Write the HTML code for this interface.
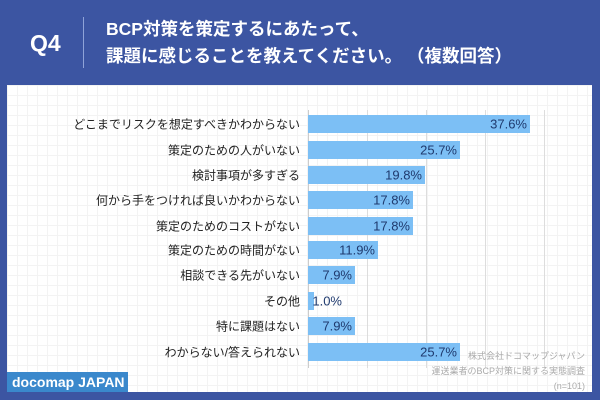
<!DOCTYPE html><html><head><meta charset="utf-8"><style>
body{margin:0;width:600px;height:400px;background:#3c55a2;position:relative;overflow:hidden;font-family:"Liberation Sans","Noto Sans CJK JP",sans-serif}
.q{position:absolute;left:30px;top:30px;color:#fff;font-size:23px;font-weight:bold}
.sep{position:absolute;left:83px;top:17px;width:1px;height:51px;background:#8fa3d8}
.t{position:absolute;left:106px;top:16px;color:#fff;font-size:17.5px;font-weight:bold;line-height:27px;white-space:nowrap}
.panel{position:absolute;left:7px;top:85px;width:585px;height:307px;background:#fff;background-image:linear-gradient(#f3f3f3 1px,transparent 1px),linear-gradient(90deg,#f3f3f3 1px,transparent 1px);background-size:10px 10px}
.g{position:absolute;top:110px;height:258px;width:1px;background:#ddd}
.lab{position:absolute;right:300px;font-size:12px;color:#222;white-space:nowrap;transform:translateY(-50%)}
.bar{position:absolute;left:308px;height:18px;background:#7cbff5;transform:translateY(-50%)}
.v{position:absolute;font-size:13px;color:#1f3a6e;transform:translate(-100%,-50%);white-space:nowrap}
.src{position:absolute;right:15px;top:349px;font-size:9px;color:#aaa;text-align:right;line-height:15px}
.dm{position:absolute;left:7px;top:372px;width:121px;height:20px;background:#3a88cc;color:#fff;font-weight:bold;font-size:14px;line-height:20px;padding-left:5px;box-sizing:border-box}
</style></head><body>
<div class="q">Q4</div><div class="sep"></div>
<div class="t">BCP対策を策定するにあたって、<br>課題に感じることを教えてください。 （複数回答）</div>
<div class="panel"></div>
<div class="g" style="left:308px;background:#ccc"></div><div class="g" style="left:367px"></div><div class="g" style="left:426px"></div><div class="g" style="left:485px"></div><div class="g" style="left:544px"></div>
<div class="lab" style="top:124px">どこまでリスクを想定すべきかわからない</div><div class="bar" style="top:124px;width:222px"></div><div class="v" style="top:124px;left:527px">37.6%</div>
<div class="lab" style="top:150px">策定のための人がいない</div><div class="bar" style="top:150px;width:152px"></div><div class="v" style="top:150px;left:457px">25.7%</div>
<div class="lab" style="top:175px">検討事項が多すぎる</div><div class="bar" style="top:175px;width:117px"></div><div class="v" style="top:175px;left:422px">19.8%</div>
<div class="lab" style="top:200px">何から手をつければ良いかわからない</div><div class="bar" style="top:200px;width:105px"></div><div class="v" style="top:200px;left:410px">17.8%</div>
<div class="lab" style="top:226px">策定のためのコストがない</div><div class="bar" style="top:226px;width:105px"></div><div class="v" style="top:226px;left:410px">17.8%</div>
<div class="lab" style="top:250px">策定のための時間がない</div><div class="bar" style="top:250px;width:70px"></div><div class="v" style="top:250px;left:375px">11.9%</div>
<div class="lab" style="top:275px">相談できる先がいない</div><div class="bar" style="top:275px;width:47px"></div><div class="v" style="top:275px;left:352px">7.9%</div>
<div class="lab" style="top:301px">その他</div><div class="bar" style="top:301px;width:6px"></div><div class="v" style="top:301px;left:342px">1.0%</div>
<div class="lab" style="top:326px">特に課題はない</div><div class="bar" style="top:326px;width:47px"></div><div class="v" style="top:326px;left:352px">7.9%</div>
<div class="lab" style="top:352px">わからない/答えられない</div><div class="bar" style="top:352px;width:152px"></div><div class="v" style="top:352px;left:457px">25.7%</div>
<div class="src">株式会社ドコマップジャパン<br>運送業者のBCP対策に関する実態調査<br>(n=101)</div>
<div class="dm">docomap JAPAN</div>
</body></html>
